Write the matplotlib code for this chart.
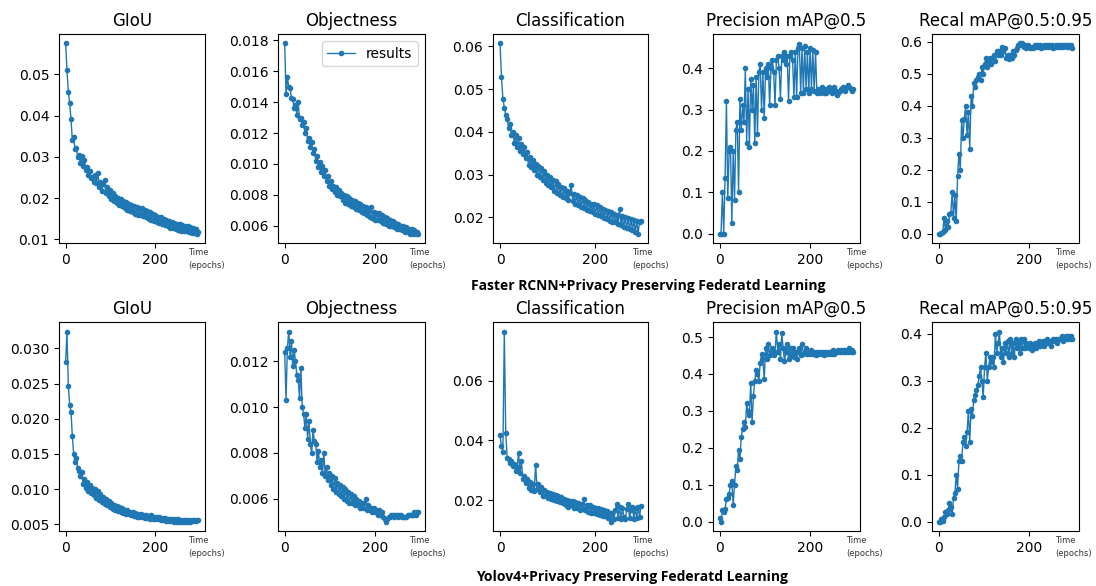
#!/usr/bin/env python3
#
import matplotlib
matplotlib.use("Agg")
from matplotlib import pyplot as plt
from matplotlib.ticker import MultipleLocator

# one point every 3 epochs
epochs = list(range(0, 300, 3))

titles = ['GIoU', 'Objectness', 'Classification',
          'Precision mAP@0.5', 'Recal mAP@0.5:0.95']
captions = ['Faster RCNN+Privacy Preserving Federatd Learning',
            'Yolov4+Privacy Preserving Federatd Learning']

# Faster RCNN
frcnn_giou = [
    0.0575, 0.0510, 0.0458, 0.0430, 0.0392, 0.0340, 0.0348, 0.0318, 0.0322, 0.0300,
    0.0305, 0.0285, 0.0302, 0.0278, 0.0292, 0.0268, 0.0275, 0.0255, 0.0266, 0.0248,
    0.0252, 0.0240, 0.0256, 0.0236, 0.0262, 0.0228, 0.0240, 0.0218, 0.0235, 0.0243,
    0.0212, 0.0228, 0.0204, 0.0220, 0.0198, 0.0212, 0.0192, 0.0206, 0.0188, 0.0200,
    0.0182, 0.0197, 0.0180, 0.0193, 0.0176, 0.0190, 0.0170, 0.0186, 0.0168, 0.0182,
    0.0165, 0.0180, 0.0162, 0.0178, 0.0160, 0.0175, 0.0158, 0.0176, 0.0156, 0.0170,
    0.0155, 0.0168, 0.0150, 0.0165, 0.0147, 0.0162, 0.0145, 0.0160, 0.0142, 0.0155,
    0.0140, 0.0154, 0.0137, 0.0150, 0.0134, 0.0147, 0.0131, 0.0145, 0.0128, 0.0142,
    0.0127, 0.0140, 0.0125, 0.0138, 0.0122, 0.0136, 0.0121, 0.0135, 0.0120, 0.0132,
    0.0119, 0.0131, 0.0117, 0.0130, 0.0116, 0.0128, 0.0115, 0.0126, 0.0114, 0.0118,
]
frcnn_obj = [
    0.0178, 0.0145, 0.0156, 0.0150, 0.0149, 0.0143, 0.0142, 0.0136, 0.0138, 0.0132,
    0.0140, 0.0129, 0.0130, 0.0125, 0.0127, 0.0120, 0.0123, 0.0115, 0.0117, 0.0111,
    0.0114, 0.0107, 0.0110, 0.0102, 0.0105, 0.0098, 0.0101, 0.0095, 0.0099, 0.0092,
    0.0096, 0.0089, 0.0092, 0.0086, 0.0089, 0.0084, 0.0086, 0.0082, 0.0085, 0.0080,
    0.0083, 0.0079, 0.0081, 0.0077, 0.0080, 0.0075, 0.0079, 0.0074, 0.0078, 0.0073,
    0.0077, 0.0072, 0.0076, 0.0071, 0.0075, 0.0070, 0.0074, 0.0069, 0.0073, 0.0068,
    0.0072, 0.0067, 0.0071, 0.0066, 0.0072, 0.0065, 0.0069, 0.0064, 0.0068, 0.0064,
    0.0068, 0.0063, 0.0067, 0.0062, 0.0066, 0.0061, 0.0065, 0.0060, 0.0064, 0.0060,
    0.0063, 0.0059, 0.0062, 0.0058, 0.0061, 0.0058, 0.0060, 0.0057, 0.0060, 0.0056,
    0.0059, 0.0056, 0.0058, 0.0055, 0.0058, 0.0055, 0.0057, 0.0055, 0.0056, 0.0055,
]
frcnn_cls = [
    0.0607, 0.0529, 0.0478, 0.0457, 0.0440, 0.0430, 0.0410, 0.0418, 0.0392, 0.0400,
    0.0375, 0.0392, 0.0365, 0.0385, 0.0355, 0.0372, 0.0348, 0.0365, 0.0338, 0.0352,
    0.0322, 0.0342, 0.0318, 0.0335, 0.0310, 0.0325, 0.0300, 0.0320, 0.0295, 0.0315,
    0.0288, 0.0308, 0.0280, 0.0300, 0.0275, 0.0295, 0.0270, 0.0288, 0.0262, 0.0285,
    0.0258, 0.0278, 0.0252, 0.0272, 0.0248, 0.0268, 0.0245, 0.0262, 0.0240, 0.0258,
    0.0275, 0.0238, 0.0255, 0.0232, 0.0252, 0.0228, 0.0248, 0.0225, 0.0245, 0.0222,
    0.0240, 0.0218, 0.0236, 0.0215, 0.0232, 0.0212, 0.0230, 0.0208, 0.0228, 0.0205,
    0.0224, 0.0202, 0.0220, 0.0198, 0.0218, 0.0195, 0.0214, 0.0192, 0.0212, 0.0190,
    0.0208, 0.0188, 0.0205, 0.0185, 0.0220, 0.0182, 0.0202, 0.0178, 0.0200, 0.0175,
    0.0198, 0.0172, 0.0196, 0.0170, 0.0194, 0.0165, 0.0192, 0.0162, 0.0190, 0.0192,
]
frcnn_prec = [
    0.0, 0.0, 0.10, 0.0, 0.135, 0.32, 0.085, 0.20, 0.21, 0.025,
    0.20, 0.08, 0.25, 0.27, 0.10, 0.325, 0.25, 0.31, 0.27, 0.40,
    0.22, 0.35, 0.21, 0.375, 0.30, 0.36, 0.22, 0.38, 0.24, 0.39,
    0.41, 0.30, 0.39, 0.28, 0.40, 0.38, 0.41, 0.31, 0.40, 0.42,
    0.39, 0.31, 0.42, 0.43, 0.40, 0.325, 0.43, 0.42, 0.44, 0.41,
    0.43, 0.32, 0.43, 0.44, 0.42, 0.33, 0.44, 0.33, 0.45, 0.46,
    0.34, 0.45, 0.34, 0.455, 0.35, 0.44, 0.34, 0.45, 0.35, 0.445,
    0.345, 0.44, 0.34, 0.35, 0.34, 0.345, 0.355, 0.34, 0.35, 0.34,
    0.345, 0.355, 0.345, 0.34, 0.35, 0.355, 0.345, 0.335, 0.34, 0.345,
    0.35, 0.355, 0.35, 0.345, 0.355, 0.36, 0.355, 0.35, 0.345, 0.35,
]
frcnn_recall = [
    0.0, 0.0, 0.002, 0.005, 0.05, 0.01, 0.04, 0.02, 0.06, 0.065,
    0.13, 0.05, 0.12, 0.04, 0.18, 0.25, 0.20, 0.355, 0.30, 0.36,
    0.40, 0.31, 0.38, 0.265, 0.43, 0.40, 0.47, 0.46, 0.48, 0.49,
    0.50, 0.48, 0.52, 0.50, 0.53, 0.55, 0.52, 0.54, 0.55, 0.53,
    0.55, 0.56, 0.54, 0.57, 0.56, 0.57, 0.56, 0.585, 0.57, 0.58,
    0.55, 0.56, 0.545, 0.56, 0.55, 0.57, 0.56, 0.575, 0.58, 0.59,
    0.595, 0.59, 0.595, 0.585, 0.59, 0.58, 0.59, 0.585, 0.58, 0.585,
    0.58, 0.59, 0.585, 0.59, 0.585, 0.59, 0.58, 0.585, 0.59, 0.585,
    0.59, 0.585, 0.59, 0.585, 0.59, 0.58, 0.585, 0.59, 0.585, 0.59,
    0.585, 0.59, 0.585, 0.59, 0.59, 0.585, 0.59, 0.585, 0.59, 0.58,
]

# Yolov4
yolo_giou = [
    0.0280, 0.0324, 0.0246, 0.0220, 0.0210, 0.0175, 0.0150, 0.0138, 0.0144, 0.0130,
    0.0126, 0.0118, 0.0125, 0.0108, 0.0115, 0.0102, 0.0110, 0.0098, 0.0106, 0.0094,
    0.0102, 0.0092, 0.0100, 0.0088, 0.0097, 0.0085, 0.0093, 0.0082, 0.0089, 0.0079,
    0.0086, 0.0077, 0.0083, 0.0075, 0.0080, 0.0072, 0.0078, 0.0070, 0.0076, 0.0069,
    0.0074, 0.0067, 0.0073, 0.0066, 0.0071, 0.0065, 0.0070, 0.0064, 0.0068, 0.0063,
    0.0067, 0.0062, 0.0066, 0.0061, 0.0065, 0.0060, 0.0064, 0.0060, 0.0063, 0.0059,
    0.0063, 0.0059, 0.0062, 0.0058, 0.0063, 0.0058, 0.0061, 0.0057, 0.0060, 0.0057,
    0.0060, 0.0056, 0.0059, 0.0056, 0.0059, 0.0055, 0.0058, 0.0055, 0.0058, 0.0055,
    0.0057, 0.0054, 0.0057, 0.0054, 0.0057, 0.0054, 0.0056, 0.0054, 0.0056, 0.0054,
    0.0056, 0.0054, 0.0056, 0.0054, 0.0056, 0.0055, 0.0056, 0.0055, 0.0056, 0.0056,
]
yolo_obj = [
    0.0124, 0.0103, 0.0126, 0.0133, 0.0122, 0.0129, 0.0118, 0.0125, 0.0120, 0.0114,
    0.0112, 0.0104, 0.0117, 0.0100, 0.0097, 0.0091, 0.0097, 0.0086, 0.0094, 0.0084,
    0.0080, 0.0090, 0.0085, 0.0084, 0.0076, 0.0081, 0.0074, 0.0077, 0.0071, 0.0080,
    0.0070, 0.0074, 0.0068, 0.0071, 0.0066, 0.0070, 0.0064, 0.0069, 0.0063, 0.0067,
    0.0062, 0.0066, 0.0061, 0.0065, 0.0060, 0.0064, 0.0059, 0.0063, 0.0058, 0.0062,
    0.0058, 0.0061, 0.0057, 0.0060, 0.0057, 0.0059, 0.0056, 0.0058, 0.0056, 0.0058,
    0.0060, 0.0055, 0.0057, 0.0055, 0.0056, 0.0054, 0.0056, 0.0054, 0.0055, 0.0053,
    0.0055, 0.0053, 0.0054, 0.0052, 0.0051, 0.0050, 0.0051, 0.0052, 0.0052, 0.0053,
    0.0053, 0.0052, 0.0053, 0.0053, 0.0052, 0.0053, 0.0053, 0.0052, 0.0052, 0.0052,
    0.0052, 0.0053, 0.0053, 0.0053, 0.0053, 0.0053, 0.0054, 0.0053, 0.0054, 0.0054,
]
yolo_cls = [
    0.0417, 0.0382, 0.0360, 0.0766, 0.0426, 0.0342, 0.0337, 0.0325, 0.0330, 0.0315,
    0.0320, 0.0298, 0.0310, 0.0359, 0.0290, 0.0331, 0.0270, 0.0282, 0.0258, 0.0270,
    0.0240, 0.0260, 0.0235, 0.0255, 0.0232, 0.0318, 0.0238, 0.0255, 0.0228, 0.0245,
    0.0215, 0.0235, 0.0212, 0.0228, 0.0208, 0.0225, 0.0205, 0.0222, 0.0200, 0.0218,
    0.0198, 0.0215, 0.0195, 0.0210, 0.0190, 0.0205, 0.0185, 0.0200, 0.0178, 0.0198,
    0.0182, 0.0196, 0.0172, 0.0195, 0.0175, 0.0190, 0.0168, 0.0188, 0.0170, 0.0205,
    0.0165, 0.0185, 0.0160, 0.0182, 0.0158, 0.0178, 0.0155, 0.0175, 0.0152, 0.0172,
    0.0150, 0.0170, 0.0148, 0.0165, 0.0145, 0.0162, 0.0140, 0.0158, 0.0128, 0.0155,
    0.0135, 0.0165, 0.0188, 0.0140, 0.0176, 0.0135, 0.0174, 0.0142, 0.0135, 0.0170,
    0.0188, 0.0140, 0.0165, 0.0178, 0.0138, 0.0172, 0.0140, 0.0178, 0.0142, 0.0180,
]
yolo_prec = [
    0.01, 0.0, 0.03, 0.025, 0.035, 0.06, 0.065, 0.075, 0.10, 0.11,
    0.045, 0.10, 0.15, 0.14, 0.195, 0.17, 0.23, 0.25, 0.27, 0.255,
    0.32, 0.30, 0.29, 0.375, 0.27, 0.34, 0.38, 0.41, 0.40, 0.38,
    0.43, 0.455, 0.44, 0.385, 0.47, 0.44, 0.48, 0.45, 0.46, 0.47,
    0.45, 0.46, 0.515, 0.46, 0.48, 0.44, 0.51, 0.47, 0.435, 0.46,
    0.48, 0.44, 0.47, 0.45, 0.47, 0.445, 0.46, 0.44, 0.46, 0.47,
    0.45, 0.48, 0.455, 0.46, 0.47, 0.455, 0.46, 0.455, 0.465, 0.455,
    0.46, 0.45, 0.46, 0.455, 0.46, 0.455, 0.46, 0.45, 0.46, 0.455,
    0.46, 0.455, 0.46, 0.455, 0.465, 0.455, 0.46, 0.46, 0.465, 0.46,
    0.465, 0.46, 0.465, 0.46, 0.465, 0.46, 0.47, 0.46, 0.465, 0.46,
]
yolo_recall = [
    0.0, 0.0, 0.005, 0.002, 0.01, 0.02, 0.015, 0.025, 0.04, 0.03,
    0.015, 0.05, 0.06, 0.10, 0.07, 0.13, 0.14, 0.13, 0.17, 0.18,
    0.16, 0.19, 0.235, 0.17, 0.24, 0.225, 0.26, 0.27, 0.28, 0.29,
    0.31, 0.33, 0.30, 0.265, 0.33, 0.36, 0.30, 0.33, 0.35, 0.34,
    0.35, 0.33, 0.40, 0.36, 0.38, 0.405, 0.35, 0.37, 0.34, 0.38,
    0.36, 0.385, 0.35, 0.39, 0.36, 0.38, 0.35, 0.39, 0.37, 0.38,
    0.36, 0.39, 0.37, 0.39, 0.37, 0.38, 0.375, 0.37, 0.38, 0.365,
    0.375, 0.38, 0.37, 0.38, 0.385, 0.375, 0.38, 0.385, 0.375, 0.385,
    0.39, 0.38, 0.385, 0.375, 0.385, 0.39, 0.385, 0.39, 0.38, 0.39,
    0.39, 0.395, 0.385, 0.39, 0.395, 0.39, 0.395, 0.39, 0.395, 0.39,
]

rows = [
    [frcnn_giou, frcnn_obj, frcnn_cls, frcnn_prec, frcnn_recall],
    [yolo_giou, yolo_obj, yolo_cls, yolo_prec, yolo_recall],
]
ytick_steps = [
    [0.01, 0.002, 0.01, 0.1, 0.1],
    [0.005, 0.002, 0.02, 0.1, 0.1],
]

W, H = 1096, 586
fig = plt.figure(figsize=(W / 100, H / 100), dpi=100)

# axes boxes in pixels (left, width per column; top per row)
col_left = [59, 278, 493, 713, 932]
col_width = [146, 147, 155, 147, 147]
row_top = [34, 322]
ax_h = 209
# where the little "Time (epochs)" note starts, px left of the right spine
note_off = [17, 16, 16, 14, 24]

for r in range(2):
    for c in range(5):
        ax = fig.add_axes([col_left[c] / W, 1 - (row_top[r] + ax_h) / H,
                           col_width[c] / W, ax_h / H])
        ax.plot(epochs, rows[r][c], marker='.', linewidth=1,
                markersize=6, label='results')
        ax.set_title(titles[c], fontsize=12)
        ax.xaxis.set_major_locator(MultipleLocator(200))
        ax.yaxis.set_major_locator(MultipleLocator(ytick_steps[r][c]))
        ax.text(1 - note_off[c] / col_width[c], -5 / ax_h, 'Time\n(epochs)',
                transform=ax.transAxes, ha='left', va='top',
                fontsize=6, color='#333333', linespacing=1.6)
        if r == 0 and c == 1:
            ax.legend(loc='upper right')

fig.text(648 / W, 1 - 286 / H, captions[0], ha='center', va='center',
         fontsize=10, fontweight='bold', family=['Open Sans', 'DejaVu Sans'])
fig.text(632 / W, 1 - 577 / H, captions[1], ha='center', va='center',
         fontsize=10, fontweight='bold', family=['Open Sans', 'DejaVu Sans'])

plt.savefig('out.png', dpi=100)
